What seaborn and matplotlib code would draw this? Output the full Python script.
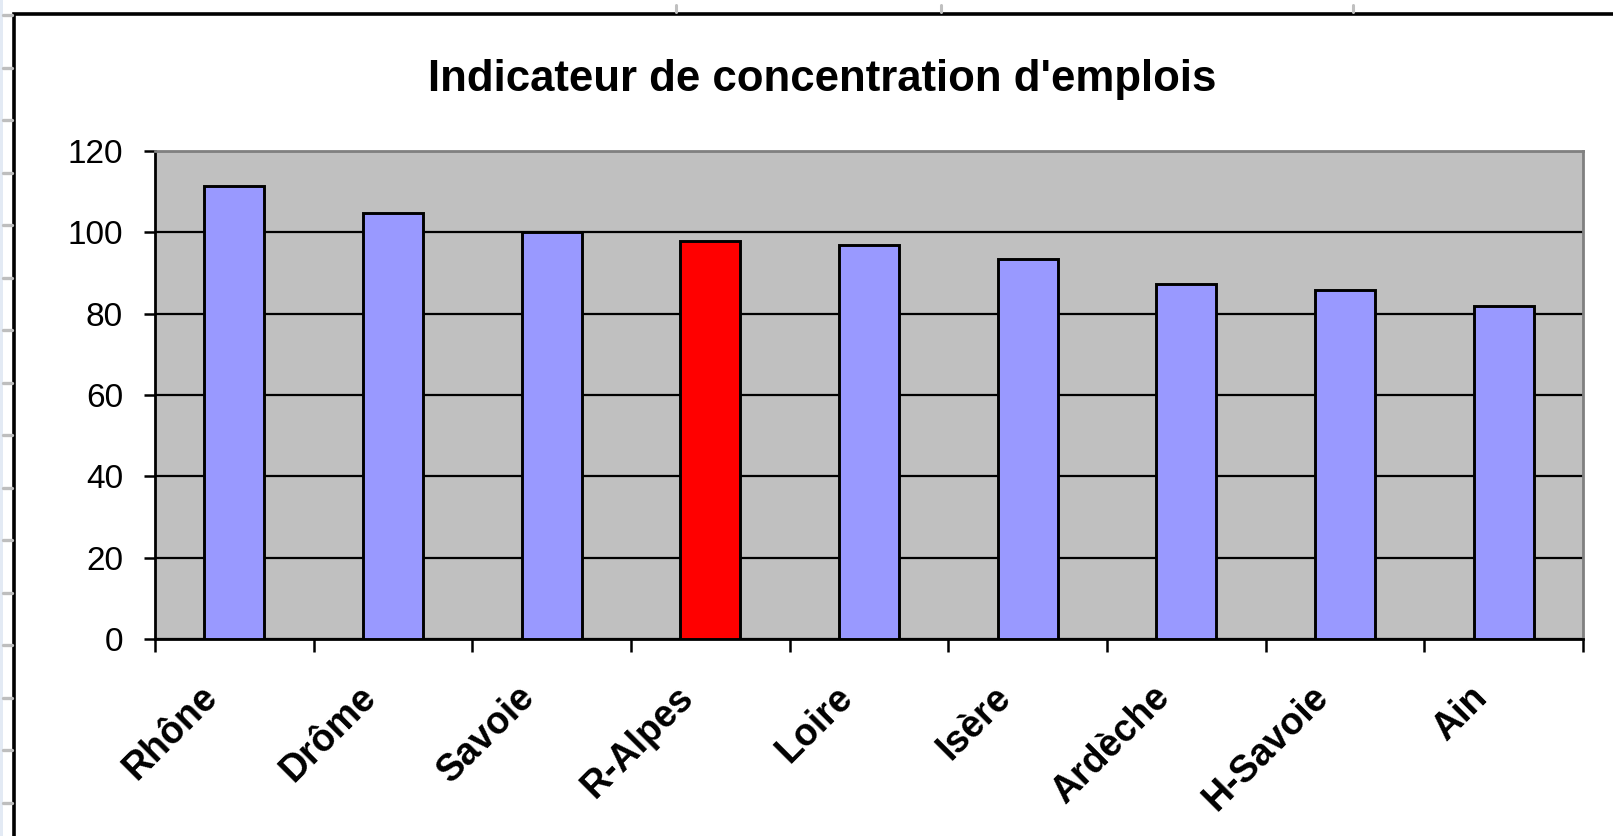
import numpy as np
import pandas as pd
import seaborn as sns
import matplotlib.pyplot as plt
from matplotlib.patches import Rectangle
from matplotlib.lines import Line2D
from matplotlib.transforms import ScaledTranslation

# data
regions = ["Rhône", "Drôme", "Savoie", "R-Alpes", "Loire", "Isère", "Ardèche", "H-Savoie", "Ain"]
values = [111.5, 104.7, 100.0, 97.8, 96.9, 93.4, 87.3, 85.7, 82.0]
bar_colors = ["#9999FF", "#9999FF", "#9999FF", "#FF0000", "#9999FF", "#9999FF", "#9999FF", "#9999FF", "#9999FF"]
y_ticks = [0, 20, 40, 60, 80, 100, 120]
title = "Indicateur de concentration d'emplois"

df = pd.DataFrame({"region": regions, "value": values})

sns.set_style("white")
plt.rcParams["font.family"] = ["Liberation Sans", "DejaVu Sans"]
plt.rcParams["text.color"] = "black"
plt.rcParams["xtick.color"] = "black"
plt.rcParams["ytick.color"] = "black"
plt.rcParams["xtick.labelcolor"] = "black"
plt.rcParams["ytick.labelcolor"] = "black"

W, H = 1613, 836
fig = plt.figure(figsize=(W / 100, H / 100), dpi=100)
fig.patch.set_facecolor("white")

# spreadsheet leftovers around the chart object
fig.add_artist(Rectangle((0, 0), 2.5 / W, 1, transform=fig.transFigure, color="#E3EAF4", lw=0))
for yy in np.arange(15, H, 52.5):
    fig.add_artist(Line2D([2.5 / W, 12 / W], [1 - yy / H] * 2, transform=fig.transFigure,
                          color="#BEBEBE", lw=2.4))
for xx in [676, 941, 1353]:
    fig.add_artist(Line2D([xx / W] * 2, [1 - 5 / H, 1 - 12 / H], transform=fig.transFigure,
                          color="#C0C0C0", lw=2.2))
# chart frame
fig.add_artist(Rectangle((13.8 / W, -0.1), 2, 1.1 - 13.5 / H, transform=fig.transFigure,
                         fill=False, ec="black", lw=2.6))

ax = fig.add_axes([155 / W, 1 - 639 / H, (1583 - 155) / W, (639 - 151) / H])
ax.set_facecolor("#C0C0C0")

sns.barplot(data=df, x="region", y="value", hue="region", palette=bar_colors, legend=False,
            width=0.38, saturation=1, edgecolor="black", linewidth=2.1, ax=ax, zorder=3)

ax.set_xlim(-0.5, len(regions) - 0.5)
ax.set_ylim(0, 120)
ax.set_yticks(y_ticks)
ax.set_yticklabels([str(v) for v in y_ticks], fontsize=24)
ax.yaxis.grid(True, color="black", lw=1.6, zorder=1)
ax.set_axisbelow(True)
ax.tick_params(axis="y", direction="out", length=8, width=1.8, pad=15, left=True, color="black")

# tick marks between categories, labels under each bar
ax.set_xticks(np.arange(-0.5, len(regions), 1))
ax.set_xticklabels([])
ax.tick_params(axis="x", which="major", direction="out", length=9, width=1.8, bottom=True, color="black")
ax.set_xticks(range(len(regions)), minor=True)
ax.set_xticklabels(regions, minor=True, rotation=45, ha="right", va="center",
                   rotation_mode="anchor", fontsize=27, fontweight="bold", color="black")
ax.tick_params(axis="x", which="minor", length=0, pad=38)
offset = ScaledTranslation(-0.22, 0, fig.dpi_scale_trans)
for lab in ax.get_xticklabels(minor=True):
    lab.set_transform(lab.get_transform() + offset)

ax.set_xlabel("")
ax.set_ylabel("")
for side in ["left", "bottom"]:
    ax.spines[side].set_color("black")
    ax.spines[side].set_linewidth(2.0)
for side in ["top", "right"]:
    ax.spines[side].set_visible(True)
    ax.spines[side].set_color("#808080")
    ax.spines[side].set_linewidth(2.0)

fig.text(822 / W, 1 - 90.5 / H, title, ha="center", va="baseline", fontsize=31.5,
         fontweight="bold", color="black")

fig.savefig("out.png", dpi=100)
